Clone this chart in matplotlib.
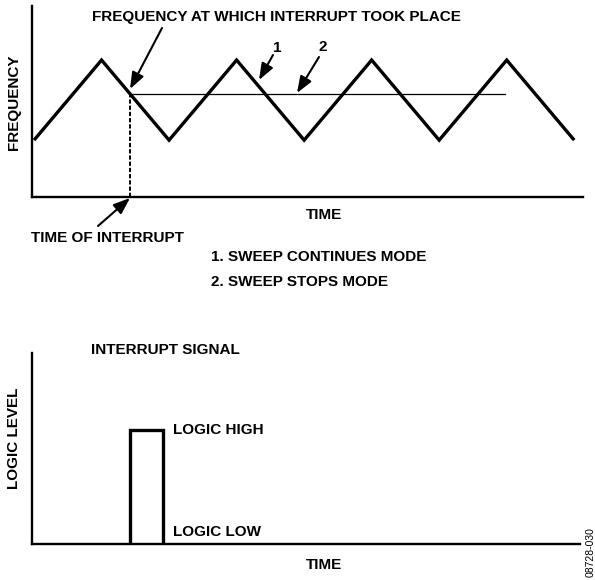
import matplotlib
matplotlib.use("Agg")
import matplotlib.pyplot as plt

plt.rcParams['font.family'] = ['Liberation Sans', 'DejaVu Sans']

# Triangle frequency sweep (time in half-periods, frequency in arbitrary units)
sweep_t = [0, 1, 2, 3, 4, 5, 6, 7, 8]
sweep_f = [1, 2, 1, 2, 1, 2, 1, 2, 1]

# Interrupt instant and the frequency held in "sweep stops" mode
t_interrupt = 1.42
f_hold = 2 - (t_interrupt - 1)
t_hold_end = 6.98

# Interrupt signal (logic level vs time)
pulse_t = [t_interrupt, t_interrupt, 1.91, 1.91]
pulse_v = [0, 1, 1, 0]

W, H = 595, 580
fig = plt.figure(figsize=(W / 100, H / 100), dpi=100)


def fx(x):
    return x / W


def fy(y):
    return 1 - y / H


def fp(x, y):
    return (fx(x), fy(y))


TXT = dict(fontsize=11, fontweight='bold', color='black')

# ---------- top panel: frequency vs time ----------
ax1 = fig.add_axes([fx(32), fy(197), fx(583) - fx(32), fy(6) - fy(197)])
ax1.set_xlim(-0.03, 8.13)
ax1.set_ylim(0.29, 2.675)
ax1.plot(sweep_t, sweep_f, color='black', lw=2.4, solid_joinstyle='miter',
         solid_capstyle='butt', clip_on=False)
ax1.plot([t_interrupt, t_hold_end], [f_hold, f_hold], color='black', lw=0.9)
ax1.plot([t_interrupt, t_interrupt], [0.29, f_hold], color='black', lw=1.4,
         ls=(0, (2.2, 1.0)))

arrow = dict(arrowstyle='-|>,head_length=1.0,head_width=0.38', color='black',
             lw=1.5, shrinkA=0, shrinkB=0)

ax1.annotate('', xy=fp(130, 89), xycoords='figure fraction',
             xytext=fp(162, 28), textcoords='figure fraction', arrowprops=arrow)
ax1.annotate('', xy=fp(259, 80), xycoords='figure fraction',
             xytext=fp(273, 55), textcoords='figure fraction', arrowprops=arrow)
ax1.annotate('', xy=fp(297, 93), xycoords='figure fraction',
             xytext=fp(319, 57), textcoords='figure fraction', arrowprops=arrow)
ax1.annotate('', xy=fp(130, 198), xycoords='figure fraction',
             xytext=fp(98, 226), textcoords='figure fraction', arrowprops=arrow)

fig.text(*fp(276, 17), 'FREQUENCY AT WHICH INTERRUPT TOOK PLACE', ha='center', va='center', **TXT)
fig.text(*fp(277, 48), '1', ha='center', va='center', **TXT)
fig.text(*fp(323, 47), '2', ha='center', va='center', **TXT)
fig.text(*fp(14, 102), 'FREQUENCY', ha='center', va='center', rotation=90, **TXT)
fig.text(*fp(324, 215), 'TIME', ha='center', va='center', **TXT)
fig.text(*fp(31, 238), 'TIME OF INTERRUPT', ha='left', va='center', **TXT)
fig.text(*fp(211, 257), '1. SWEEP CONTINUES MODE', ha='left', va='center', **TXT)
fig.text(*fp(211, 282), '2. SWEEP STOPS MODE', ha='left', va='center', **TXT)

# ---------- bottom panel: interrupt signal ----------
ax2 = fig.add_axes([fx(32), fy(544), fx(580) - fx(32), fy(353) - fy(544)])
ax2.set_xlim(-0.03, 8.08)
ax2.set_ylim(0, 1.675)
ax2.plot(pulse_t, pulse_v, color='black', lw=2.4, solid_joinstyle='miter',
         solid_capstyle='butt', clip_on=False)

fig.text(*fp(91, 350), 'INTERRUPT SIGNAL', ha='left', va='center', **TXT)
fig.text(*fp(173, 430), 'LOGIC HIGH', ha='left', va='center', **TXT)
fig.text(*fp(173, 532), 'LOGIC LOW', ha='left', va='center', **TXT)
fig.text(*fp(14, 438), 'LOGIC LEVEL', ha='center', va='center', rotation=90, **TXT)
fig.text(*fp(324, 565), 'TIME', ha='center', va='center', **TXT)
fig.text(*fp(591, 552), '08728-030', ha='center', va='center', rotation=90,
         fontsize=7.5, color='black')

for ax in (ax1, ax2):
    ax.set_xticks([])
    ax.set_yticks([])
    ax.spines['top'].set_visible(False)
    ax.spines['right'].set_visible(False)
    ax.spines['left'].set_linewidth(1.7)
    ax.spines['bottom'].set_linewidth(1.7)
    ax.set_facecolor('none')

fig.savefig('out.png', dpi=100, facecolor='white')
